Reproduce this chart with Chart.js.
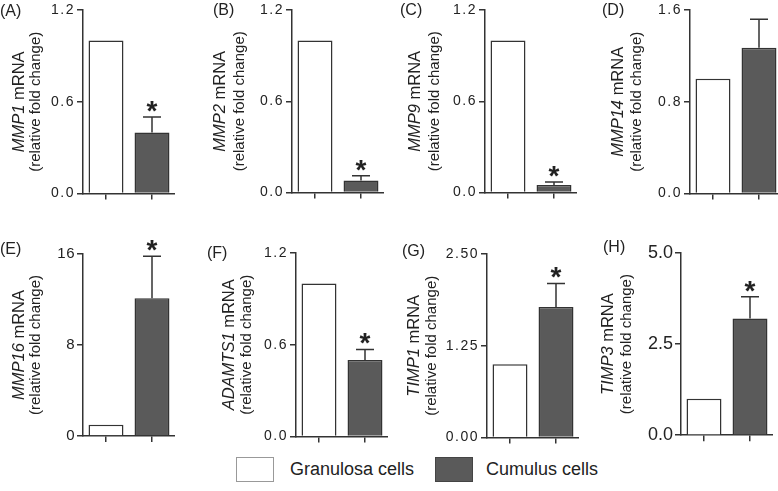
<!DOCTYPE html>
<html>
<head>
<meta charset="utf-8">
<script src="https://cdn.jsdelivr.net/npm/chart.js@4.4.1/dist/chart.umd.min.js"></script>
<style>
    html, body { margin: 0; padding: 0; background: #fff; overflow: hidden; }
    body { width: 778px; height: 491px; position: relative; font-family: "Liberation Sans", Arial, sans-serif; color: #222; }
    canvas.panel { position: absolute; }
    .tag { position: absolute; font-size: 16px; line-height: 16px; }
    .box { position: absolute; width: 38px; height: 25px; box-sizing: border-box; }
    .lbl { position: absolute; font-size: 18px; line-height: 20px; }
</style>
</head>
<body>
<div id="figure"></div>
<script>
// groups and panels
const groups = ['Granulosa cells', 'Cumulus cells'];
const genes = ['MMP1', 'MMP2', 'MMP9', 'MMP14', 'MMP16', 'ADAMTS1', 'TIMP1', 'TIMP3'];
const panelTags = ['(A)', '(B)', '(C)', '(D)', '(E)', '(F)', '(G)', '(H)'];

// relative fold change (granulosa = control)
const granulosaMean = [1, 1, 1, 1, 1, 1, 1, 1];
const cumulusMean = [0.40, 0.08, 0.05, 1.27, 12.1, 0.50, 1.78, 3.2];
const cumulusSem = [0.10, 0.03, 0.02, 0.25, 3.7, 0.07, 0.32, 0.6];
const significant = [true, true, true, false, true, true, true, true];

// y axes
const yMax = [1.2, 1.2, 1.2, 1.6, 16, 1.2, 2.5, 5];
const yStep = [0.6, 0.6, 0.6, 0.8, 8, 0.6, 1.25, 2.5];
const yDecimals = [1, 1, 1, 1, 0, 1, 2, 1];

// where each panel sits on the page
const panelPos = [
    { axisX: 83,  top: 10,  bottom: 194, t1: -64, t2: -47, tagX: 0,   tagY: 3,   tickSize: 14, spacing: 1.5 },
    { axisX: 292, top: 10,  bottom: 193, t1: -72, t2: -52, tagX: 213, tagY: 2,   tickSize: 14, spacing: 1.5 },
    { axisX: 485, top: 10,  bottom: 193, t1: -70, t2: -50, tagX: 400, tagY: 2,   tickSize: 14, spacing: 1.5 },
    { axisX: 690, top: 10,  bottom: 194, t1: -72, t2: -53, tagX: 602, tagY: 2,   tickSize: 14, spacing: 1.5 },
    { axisX: 83,  top: 254, bottom: 437, t1: -64, t2: -47, tagX: 0,   tagY: 241, tickSize: 15, spacing: 0.5 },
    { axisX: 296, top: 253, bottom: 437, t1: -67, t2: -49, tagX: 207, tagY: 245, tickSize: 14, spacing: 1.5 },
    { axisX: 487, top: 254, bottom: 438, t1: -73, t2: -55, tagX: 402, tagY: 243, tickSize: 14, spacing: 1.5 },
    { axisX: 681, top: 253, bottom: 438, t1: -73, t2: -54, tagX: 603, tagY: 239, tickSize: 18, spacing: 0 }
];

const INK = '#333';
const GREY = '#5a5a5a';
const Y_WIDTH = 82;
const AREA_W = 92;
const PAD_TOP = 22;
const X_HEIGHT = 10;

const figure = document.getElementById('figure');

function makeDeco(i) {
    return {
        id: 'deco' + i,
        beforeDraw(chart) {
            chart.ctx.letterSpacing = panelPos[i].spacing + 'px';
        },
        afterDatasetsDraw(chart) {
            const ctx = chart.ctx;
            const y = chart.scales.y;
            const bar = chart.getDatasetMeta(0).data[1];
            const x = bar.x;
            const top = y.getPixelForValue(cumulusMean[i] + cumulusSem[i]);
            const base = y.getPixelForValue(cumulusMean[i]);
            ctx.save();
            ctx.letterSpacing = '0px';
            ctx.strokeStyle = INK;
            ctx.lineWidth = 1.5;
            ctx.beginPath();
            ctx.moveTo(x, base);
            ctx.lineTo(x, top);
            ctx.moveTo(x - 9, top);
            ctx.lineTo(x + 9, top);
            ctx.stroke();
            if (significant[i]) {
                ctx.fillStyle = '#222';
                ctx.font = 'bold 28px "Liberation Sans", Arial, sans-serif';
                ctx.textAlign = 'center';
                ctx.textBaseline = 'alphabetic';
                ctx.fillText('*', x, top + 3);
            }
            ctx.restore();
        },
        afterDraw(chart) {
            const ctx = chart.ctx;
            const area = chart.chartArea;
            const cy = (area.top + area.bottom) / 2;
            const p = panelPos[i];
            ctx.save();
            ctx.letterSpacing = '0px';
            ctx.fillStyle = '#222';
            ctx.textBaseline = 'middle';
            // first line: italic gene name + " mRNA"
            const italic = 'italic 16.5px "Liberation Sans", Arial, sans-serif';
            const plain = '16.5px "Liberation Sans", Arial, sans-serif';
            ctx.font = italic;
            const w1 = ctx.measureText(genes[i]).width;
            ctx.font = plain;
            const w2 = ctx.measureText(' mRNA').width;
            ctx.translate(area.left + p.t1, cy);
            ctx.rotate(-Math.PI / 2);
            ctx.textAlign = 'left';
            ctx.font = italic;
            ctx.fillText(genes[i], -(w1 + w2) / 2, 0);
            ctx.font = plain;
            ctx.fillText(' mRNA', -(w1 + w2) / 2 + w1, 0);
            ctx.restore();

            ctx.save();
            ctx.letterSpacing = '0px';
            ctx.fillStyle = '#222';
            ctx.textBaseline = 'middle';
            ctx.textAlign = 'center';
            ctx.font = '15px "Liberation Sans", Arial, sans-serif';
            ctx.translate(area.left + p.t2, cy);
            ctx.rotate(-Math.PI / 2);
            ctx.fillText('(relative fold change)', 0, 0);
            ctx.restore();
        }
    };
}

panelPos.forEach(function(p, i) {
    const canvas = document.createElement('canvas');
    canvas.className = 'panel';
    const w = Y_WIDTH + AREA_W;
    const h = PAD_TOP + (p.bottom - p.top) + X_HEIGHT;
    canvas.width = w;
    canvas.height = h;
    canvas.style.left = (p.axisX - Y_WIDTH) + 'px';
    canvas.style.top = (p.top - PAD_TOP) + 'px';
    canvas.style.width = w + 'px';
    canvas.style.height = h + 'px';
    figure.appendChild(canvas);

    const tag = document.createElement('div');
    tag.className = 'tag';
    tag.textContent = panelTags[i];
    tag.style.left = p.tagX + 'px';
    tag.style.top = p.tagY + 'px';
    figure.appendChild(tag);

    new Chart(canvas, {
        type: 'bar',
        data: {
            labels: groups,
            datasets: [{
                data: [granulosaMean[i], cumulusMean[i]],
                backgroundColor: ['#ffffff', GREY],
                borderColor: INK,
                borderWidth: 1.5,
                barPercentage: 0.76,
                categoryPercentage: 1
            }]
        },
        options: {
            responsive: false,
            animation: false,
            devicePixelRatio: 1,
            layout: { padding: { top: PAD_TOP, left: 0, right: 0, bottom: 0 } },
            plugins: {
                legend: { display: false },
                tooltip: { enabled: false }
            },
            scales: {
                x: {
                    type: 'category',
                    ticks: { display: false },
                    grid: { drawOnChartArea: false, offset: false, color: INK, lineWidth: 1.5, tickLength: 6 },
                    border: { color: INK, width: 1.5 },
                    afterFit(scale) { scale.height = X_HEIGHT; }
                },
                y: {
                    min: 0,
                    max: yMax[i],
                    ticks: {
                        stepSize: yStep[i],
                        padding: 2,
                        color: '#222',
                        font: { family: '"Liberation Sans", Arial, sans-serif', size: p.tickSize },
                        callback: function(v) { return Number(v).toFixed(yDecimals[i]); }
                    },
                    grid: { drawOnChartArea: false, color: INK, lineWidth: 1.5, tickLength: 6 },
                    border: { color: INK, width: 1.5 },
                    afterFit(scale) { scale.width = Y_WIDTH; }
                }
            }
        },
        plugins: [makeDeco(i)]
    });
});

// legend below the panels
const legendItems = [
    { box: 236, text: 290, fill: '#ffffff', edge: '#999' },
    { box: 435, text: 486, fill: GREY, edge: '#444' }
];
legendItems.forEach(function(item, k) {
    const b = document.createElement('div');
    b.className = 'box';
    b.style.left = item.box + 'px';
    b.style.top = '457px';
    b.style.background = item.fill;
    b.style.border = '1px solid ' + item.edge;
    figure.appendChild(b);
    const t = document.createElement('div');
    t.className = 'lbl';
    t.textContent = groups[k];
    t.style.left = item.text + 'px';
    t.style.top = '459px';
    figure.appendChild(t);
});
</script>
</body>
</html>
